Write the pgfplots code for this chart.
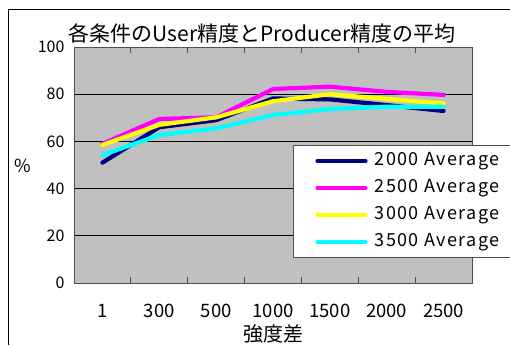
\documentclass[border=0pt]{standalone}
\usepackage{fontspec}
\setmainfont{Noto Sans CJK JP}
\newfontfamily\legendfont[LetterSpace=8]{Noto Sans CJK JP}
\usepackage{pgfplots}
\pgfplotsset{compat=1.18}
\definecolor{plotgray}{RGB}{192,192,192}
\definecolor{framegray}{RGB}{80,80,80}
\definecolor{sNavy}{RGB}{0,0,128}
\definecolor{sMagenta}{RGB}{255,0,255}
\definecolor{sYellow}{RGB}{255,255,0}
\definecolor{sCyan}{RGB}{0,255,255}
\begin{document}
\begin{tikzpicture}
\path[use as bounding box] (0pt,0pt) rectangle (510pt,-345pt);
\draw[line width=1.3pt] (8.5pt,-345pt) -- (8.5pt,-9.5pt) -- (510pt,-9.5pt);
\begin{axis}[
  at={(74pt,-283pt)}, anchor=south west,
  scale only axis, width=398pt, height=236pt,
  xmin=0.5, xmax=7.5, ymin=0, ymax=100,
  axis background/.style={fill=plotgray},
  axis line style={draw=framegray, line width=1pt},
  xtick={1,...,7},
  xticklabels={1,300,500,1000,1500,2000,2500},
  xtick style={draw=none},
  extra x ticks={1.5,2.5,3.5,4.5,5.5,6.5},
  extra x tick labels={},
  extra x tick style={xtick style={draw=framegray, line width=1pt}, major tick length=6pt, tick align=inside, grid=none},
  ytick={0,20,40,60,80,100},
  ytick style={draw=none},
  ymajorgrids,
  grid style={black, line width=0.8pt},
  yticklabel style={font=\fontsize{16}{16}\selectfont, xshift=-6pt},
  xticklabel style={font=\fontsize{18.5}{18.5}\selectfont, yshift=-18pt},
  /pgf/number format/assume math mode=true,
  legend style={at={(0.550,0.585)}, anchor=north west, draw=framegray, line width=1pt,
    fill=white, font=\fontsize{18}{18}\legendfont,
    inner xsep=11pt, inner ysep=7pt, row sep=10pt, column sep=7pt,
    nodes={inner sep=0pt, text height=13pt, text depth=4pt},
    cells={anchor=west}},
  legend image code/.code={\path (0pt,0pt); \draw[#1] (11pt,0pt) -- (59pt,0pt);},
  every axis plot/.append style={line width=4.2pt, line join=round, line cap=round},
]
\addplot[sNavy] coordinates {(1,51.0) (2,66.0) (3,69.0) (4,78.2) (5,77.8) (6,75.4) (7,72.9)};
\addplot[sMagenta] coordinates {(1,59.0) (2,69.5) (3,70.2) (4,82.2) (5,83.2) (6,81.0) (7,79.7)};
\addplot[sYellow] coordinates {(1,58.5) (2,67.0) (3,70.2) (4,77.0) (5,80.0) (6,78.0) (7,76.1)};
\addplot[sCyan] coordinates {(1,54.2) (2,62.7) (3,65.5) (4,71.2) (5,73.7) (6,74.7) (7,74.7)};
\legend{2000 Average,2500 Average,3000 Average,3500 Average}
\end{axis}
\node[font=\fontsize{21}{21}\selectfont] at (262pt,-33pt) {各条件のUser精度とProducer精度の平均};
\node[font=\fontsize{18}{18}\selectfont] at (23pt,-166pt) {\%};
\node[font=\fontsize{20}{20}\selectfont] at (273pt,-334pt) {強度差};
\end{tikzpicture}
\end{document}
